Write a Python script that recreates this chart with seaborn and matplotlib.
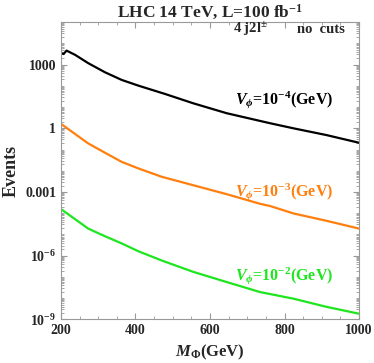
"""Events vs M_Phi for three V_phi values (LHC 14 TeV, 100 fb^-1)."""

import matplotlib
matplotlib.use("Agg")
import matplotlib.pyplot as plt
import matplotlib.ticker as mticker
import seaborn as sns
import pandas as pd

# Data
mass_black = [200, 207, 215, 238, 273, 318, 363, 408, 479, 555, 645, 761, 824, 913, 1000]
events_black = [3470, 3160, 4570, 2880, 1175, 437, 190, 102, 41.7, 15.1, 5.13, 1.74, 1.0, 0.479, 0.209]

mass_orange = [200, 204, 273, 318, 363, 408, 470, 555, 645, 734, 761, 824, 913, 1000]
events_orange = [1.58, 1.45, 0.195, 0.071, 0.0263, 0.0129, 5.25e-3, 2.09e-3, 7.9e-4,
                 2.8e-4, 2.2e-4, 9.8e-5, 4.4e-5, 1.9e-5]

mass_green = [200, 204, 273, 318, 363, 408, 470, 555, 645, 734, 824, 913, 1000]
events_green = [1.51e-4, 1.41e-4, 1.9e-5, 8.3e-6, 3.8e-6, 1.62e-6, 6.0e-7, 1.74e-7,
                5.75e-8, 1.95e-8, 9.5e-9, 3.9e-9, 1.86e-9]

series_names = ["1e-4", "1e-3", "1e-2"]
series_labels = [r"$V_{\phi}$=10$^{-4}$(GeV)", r"$V_{\phi}$=10$^{-3}$(GeV)", r"$V_{\phi}$=10$^{-2}$(GeV)"]
colors = ["black", "#FF7F0E", "#1EE61E"]

yticks = [1e-9, 1e-6, 1e-3, 1, 1e3]
ytick_labels = [r"10$^{-9}$", r"10$^{-6}$", "0.001", "1", "1000"]
xticks = [200, 400, 600, 800, 1000]

df = pd.concat([
    pd.DataFrame({"mass": mass_black, "events": events_black, "vphi": series_names[0]}),
    pd.DataFrame({"mass": mass_orange, "events": events_orange, "vphi": series_names[1]}),
    pd.DataFrame({"mass": mass_green, "events": events_green, "vphi": series_names[2]}),
])

sns.set_theme(style="ticks")
plt.rcParams["font.family"] = ["Liberation Serif", "DejaVu Serif"]
plt.rcParams["font.weight"] = "bold"
plt.rcParams["mathtext.fontset"] = "custom"
plt.rcParams["mathtext.rm"] = "Liberation Serif:bold"
plt.rcParams["mathtext.it"] = "Liberation Serif:bold:italic"
plt.rcParams["mathtext.bf"] = "Liberation Serif:bold"

fig = plt.figure(figsize=(3.74, 3.63), dpi=100)
ax = fig.add_axes([0.163, 0.12, 0.797, 0.819])

sns.lineplot(data=df, x="mass", y="events", hue="vphi", palette=dict(zip(series_names, colors)),
             legend=False, linewidth=1.6, ax=ax)

ax.set_yscale("log")
ax.set_xlim(200, 1000)
ax.set_ylim(1e-9, 1e5)
ax.set_xticks(xticks)
ax.set_xticklabels([str(v) for v in xticks])
ax.xaxis.set_minor_locator(mticker.MultipleLocator(50))
ax.set_yticks(yticks)
ax.set_yticklabels(ytick_labels)
ax.yaxis.set_minor_locator(mticker.LogLocator(base=10, subs=[1, 2, 3, 4, 5, 6, 7, 8, 9], numticks=50))
ax.yaxis.set_minor_formatter(mticker.NullFormatter())

ax.tick_params(which="both", direction="in", top=True, right=True, color="#999999", labelsize=10)
ax.tick_params(which="major", length=4, width=0.8)
ax.tick_params(which="minor", length=2, width=0.6)
for lbl in ax.get_xticklabels() + ax.get_yticklabels():
    lbl.set_fontweight("bold")
for spine in ax.spines.values():
    spine.set_color("#999999")
    spine.set_linewidth(0.8)

ax.set_xlabel(r"$M_{\Phi}$(GeV)", fontsize=12, fontweight="bold", labelpad=4)
ax.set_ylabel("Events", fontsize=13, fontweight="bold", labelpad=4)
ax.set_title(r"LHC 14 TeV, L=100 fb$^{-1}$", fontsize=12.5, fontweight="bold", pad=3)

# Annotations
ax.text(0.634, 0.975, r"4 j2l$^{\pm}$", transform=ax.transAxes, fontsize=10.5, fontweight="bold",
        ha="center", va="center")
ax.text(0.872, 0.975, "no  cuts", transform=ax.transAxes, fontsize=10.5, fontweight="bold",
        ha="center", va="center")
label_y = [0.738, 0.431, 0.148]
for lab, col, yy in zip(series_labels, colors, label_y):
    ax.text(0.75, yy, lab, transform=ax.transAxes, color=col, fontsize=11.5, fontweight="bold",
            ha="center", va="center")

fig.savefig("out.png", dpi=100)
